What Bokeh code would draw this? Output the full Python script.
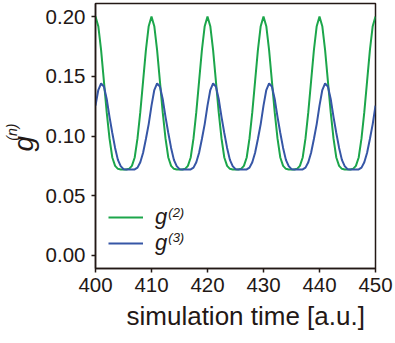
import numpy as np
from bokeh.plotting import figure
from bokeh.models import Range1d, FixedTicker, PrintfTickFormatter, Legend, LegendItem, Label, Title
from bokeh.embed import file_html
from bokeh.resources import INLINE

# sampling grid of simulation time
time = np.arange(400.0, 450.25, 0.5)

# g^(2) (every 0.5 time units)
g2 = [
    0.200, 0.192, 0.172, 0.146, 0.120, 0.098, 0.082, 0.075, 0.0725, 0.072,
    0.072, 0.072, 0.0725, 0.075, 0.082, 0.098, 0.120, 0.146, 0.172, 0.192,
    0.200, 0.192, 0.172, 0.146, 0.120, 0.098, 0.082, 0.075, 0.0725, 0.072,
    0.072, 0.072, 0.0725, 0.075, 0.082, 0.098, 0.120, 0.146, 0.172, 0.192,
    0.200, 0.192, 0.172, 0.146, 0.120, 0.098, 0.082, 0.075, 0.0725, 0.072,
    0.072, 0.072, 0.0725, 0.075, 0.082, 0.098, 0.120, 0.146, 0.172, 0.192,
    0.200, 0.192, 0.172, 0.146, 0.120, 0.098, 0.082, 0.075, 0.0725, 0.072,
    0.072, 0.072, 0.0725, 0.075, 0.082, 0.098, 0.120, 0.146, 0.172, 0.192,
    0.200, 0.192, 0.172, 0.146, 0.120, 0.098, 0.082, 0.075, 0.0725, 0.072,
    0.072, 0.072, 0.0725, 0.075, 0.082, 0.098, 0.120, 0.146, 0.172, 0.192,
    0.200,
]

# g^(3) (every 0.5 time units)
g3 = [
    0.1255, 0.1385, 0.144, 0.1415, 0.131, 0.116, 0.1025, 0.090, 0.080, 0.0748,
    0.0722, 0.072, 0.072, 0.072, 0.072, 0.0735, 0.078, 0.086, 0.0975, 0.110,
    0.1255, 0.1385, 0.144, 0.1415, 0.131, 0.116, 0.1025, 0.090, 0.080, 0.0748,
    0.0722, 0.072, 0.072, 0.072, 0.072, 0.0735, 0.078, 0.086, 0.0975, 0.110,
    0.1255, 0.1385, 0.144, 0.1415, 0.131, 0.116, 0.1025, 0.090, 0.080, 0.0748,
    0.0722, 0.072, 0.072, 0.072, 0.072, 0.0735, 0.078, 0.086, 0.0975, 0.110,
    0.1255, 0.1385, 0.144, 0.1415, 0.131, 0.116, 0.1025, 0.090, 0.080, 0.0748,
    0.0722, 0.072, 0.072, 0.072, 0.072, 0.0735, 0.078, 0.086, 0.0975, 0.110,
    0.1255, 0.1385, 0.144, 0.1415, 0.131, 0.116, 0.1025, 0.090, 0.080, 0.0748,
    0.0722, 0.072, 0.072, 0.072, 0.072, 0.0735, 0.078, 0.086, 0.0975, 0.110,
    0.1255,
]

x_ticks = [400, 410, 420, 430, 440, 450]
y_ticks = [0.00, 0.05, 0.10, 0.15, 0.20]
series_base = "g"
series_sup = ["(2)", "(3)"]
y_label_base = "g"
y_label_sup = "(n)"
x_label = "simulation time [a.u.]"

DARK = "#231815"
GREEN = "#1ca64b"
BLUE = "#3656a6"
FONT = "Liberation Sans"
NBSP = "\u00a0"

p = figure(width=395, height=343, output_backend="svg", toolbar_location=None,
           x_range=Range1d(400, 450), y_range=Range1d(-0.011, 0.211),
           min_border_left=95, min_border_right=20, min_border_top=3, min_border_bottom=75)
p.grid.visible = False
p.outline_line_color = DARK
p.outline_line_width = 1.5
p.background_fill_color = "white"
p.border_fill_color = "white"

r2 = p.line(time, g2, line_color=GREEN, line_width=2)
r3 = p.line(time, g3, line_color=BLUE, line_width=2)

for ax in (p.xaxis, p.yaxis):
    ax.axis_line_color = DARK
    ax.axis_line_width = 1.5
    ax.major_tick_line_color = DARK
    ax.major_tick_line_width = 1.5
    ax.major_tick_out = 4
    ax.major_tick_in = 0
    ax.minor_tick_line_color = None
    ax.major_label_text_font = FONT
    ax.major_label_text_font_size = "20.5px"
    ax.major_label_text_color = DARK

p.xaxis.ticker = FixedTicker(ticks=x_ticks)
p.xaxis.formatter = PrintfTickFormatter(format="%d")
p.xaxis.major_label_standoff = 5

p.yaxis.ticker = FixedTicker(ticks=y_ticks)
p.yaxis.formatter = PrintfTickFormatter(format="%.2f")
p.yaxis.major_label_standoff = 6

# rotated y-axis title: italic g with a raised (n)
p.add_layout(Title(text=y_label_base + NBSP * 2, align="center", standoff=8,
                   text_font=FONT, text_font_size="28px", text_font_style="italic",
                   text_color=DARK), "left")
p.add_layout(Title(text=NBSP * 2 + y_label_sup, align="center", standoff=-36,
                   text_font=FONT, text_font_size="14px", text_font_style="italic",
                   text_color=DARK), "left")

p.add_layout(Title(text=x_label, align="left", offset=31, standoff=8,
                   text_font=FONT, text_font_size="26px", text_font_style="normal",
                   text_color=DARK), "below")

legend = Legend(items=[LegendItem(label=series_base, renderers=[r2]),
                       LegendItem(label=series_base, renderers=[r3])],
                location=(13, 12), border_line_color=None, background_fill_alpha=0,
                padding=0, margin=0, spacing=0, glyph_width=35, glyph_height=20,
                label_height=20, label_standoff=12,
                label_text_font=FONT, label_text_font_style="italic",
                label_text_font_size="22px", label_text_color=DARK)
p.add_layout(legend)

# superscripts next to the legend labels
for sup, yv in zip(series_sup, [0.036, 0.0151]):
    p.add_layout(Label(x=413.0, y=yv, text=sup, text_align="left", text_baseline="middle",
                       text_font=FONT, text_font_style="italic", text_font_size="13px",
                       text_color=DARK))

open("out.html", "w").write(file_html(p, INLINE))
